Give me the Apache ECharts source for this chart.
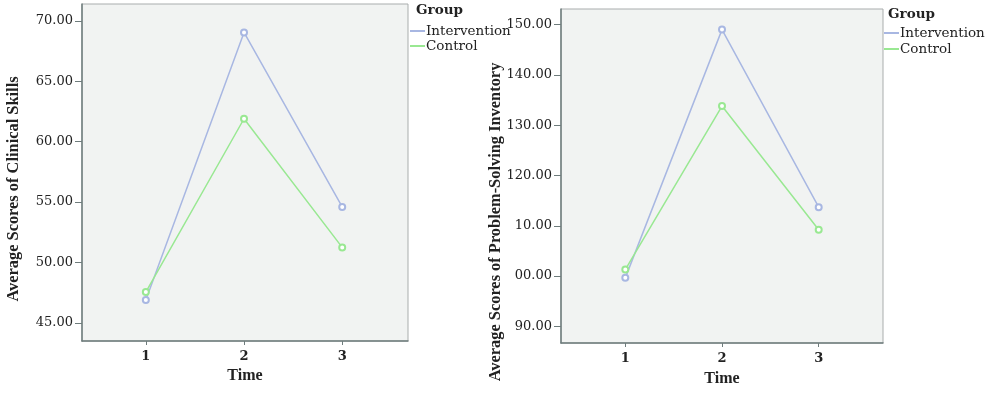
<!DOCTYPE html>
<html>
<head>
<meta charset="utf-8">
<script src="https://cdn.jsdelivr.net/npm/echarts@6/dist/echarts.min.js"></script>
<style>html,body{margin:0;padding:0;background:#fff}#c{width:1000px;height:395px}</style>
</head>
<body>
<div id="c"></div>
<script>
const times = [1, 2, 3];
const seriesNames = ['Intervention', 'Control'];
// Left panel: clinical skills
const clinicalIntervention = [46.9, 69.05, 54.6];
const clinicalControl = [47.55, 61.9, 51.25];
const clinicalTicks = [45, 50, 55, 60, 65, 70];
const clinicalTickLabels = ['45.00', '50.00', '55.00', '60.00', '65.00', '70.00'];
// Right panel: problem-solving inventory
const psiIntervention = [99.65, 149.0, 113.7];
const psiControl = [101.3, 133.8, 109.2];
const psiTicks = [90, 100, 110, 120, 130, 140, 150];
const psiTickLabels = ['90.00', '00.00', '10.00', '120.00', '130.00', '140.00', '150.00'];

const FONT = 'DejaVu Serif';
const TFONT = 'Liberation Serif';
const blue = '#a8b7e2';
const green = '#99e892';
const axisDark = '#6e7c7c';

function pts(vals) { return times.map((t, i) => [t, vals[i]]); }
function lbl(ticks, labels) { return v => { const i = ticks.indexOf(v); return i >= 0 ? labels[i] : ''; }; }

function xAx(gi, min, max, gap) {
  return {
    gridIndex: gi, type: 'value', min: min, max: max,
    name: 'Time', nameLocation: 'middle', nameGap: gap,
    nameTextStyle: { fontFamily: TFONT, fontWeight: 'bold', fontSize: 16, color: '#222' },
    axisLine: { onZero: false, lineStyle: { color: axisDark, width: 1.5 } },
    axisTick: { customValues: times, length: 4, lineStyle: { color: axisDark } },
    axisLabel: { customValues: times, margin: 9, fontFamily: FONT, fontWeight: 'bold', fontSize: 13, color: '#222' },
    splitLine: { show: false }
  };
}
function yAx(gi, min, max, ticks, labels) {
  return {
    gridIndex: gi, type: 'value', min: min, max: max,
    axisLine: { show: true, lineStyle: { color: axisDark, width: 1.5 } },
    axisTick: { show: true, customValues: ticks, length: 7, lineStyle: { color: axisDark } },
    axisLabel: { customValues: ticks, margin: 9, formatter: lbl(ticks, labels), fontFamily: FONT, fontSize: 13, color: '#222' },
    splitLine: { show: false }
  };
}
function ser(name, gi, vals, color) {
  return {
    name: name, type: 'line', xAxisIndex: gi, yAxisIndex: gi, data: pts(vals),
    symbol: 'emptyCircle', symbolSize: 6, showSymbol: true,
    lineStyle: { color: color, width: 1.5 }, itemStyle: { color: color, borderWidth: 1.2 },
    emphasis: { disabled: true }, animation: false
  };
}
function legend(left, top, gap) {
  return {
    orient: 'vertical', left: left, top: top, data: seriesNames,
    icon: 'rect', itemWidth: 15, itemHeight: 2, itemGap: gap, padding: 0,
    textStyle: { fontFamily: FONT, fontSize: 13.5, color: '#222', padding: [0, 0, 0, -4] },
    selectedMode: false
  };
}

const chart = echarts.init(document.getElementById('c'), null, { renderer: 'canvas' });
chart.setOption({
  backgroundColor: '#ffffff',
  animation: false,
  title: [
    { text: 'Group', left: 416, top: 3, padding: 0, textStyle: { fontFamily: FONT, fontWeight: 'bold', fontSize: 13.5, color: '#222' } },
    { text: 'Group', left: 888, top: 7, padding: 0, textStyle: { fontFamily: FONT, fontWeight: 'bold', fontSize: 13.5, color: '#222' } }
  ],
  legend: [legend(410, 24, 1), legend(884, 26, 2)],
  grid: [
    { left: 82, top: 4, width: 326, height: 337, show: true, backgroundColor: '#f1f3f2', borderColor: '#a9adad', borderWidth: 1 },
    { left: 561, top: 9, width: 322, height: 334, show: true, backgroundColor: '#f1f3f2', borderColor: '#a9adad', borderWidth: 1 }
  ],
  xAxis: [xAx(0, 0.35, 3.67, 26), xAx(1, 0.335, 3.665, 28)],
  yAxis: [yAx(0, 43.5, 71.4, clinicalTicks, clinicalTickLabels), yAx(1, 86.7, 153.1, psiTicks, psiTickLabels)],
  series: [
    ser('Intervention', 0, clinicalIntervention, blue),
    ser('Control', 0, clinicalControl, green),
    ser('Intervention', 1, psiIntervention, blue),
    ser('Control', 1, psiControl, green)
  ],
  graphic: [
    { type: 'text', x: 14, y: 189, rotation: Math.PI / 2, style: { text: 'Average Scores of Clinical Skills', align: 'center', verticalAlign: 'middle', font: 'bold 16.4px "Liberation Serif"', fill: '#222' } },
    { type: 'text', x: 496, y: 222, rotation: Math.PI / 2, style: { text: 'Average Scores of Problem-Solving Inventory', align: 'center', verticalAlign: 'middle', font: 'bold 16.4px "Liberation Serif"', fill: '#222' } }
  ]
});
</script>
</body>
</html>
